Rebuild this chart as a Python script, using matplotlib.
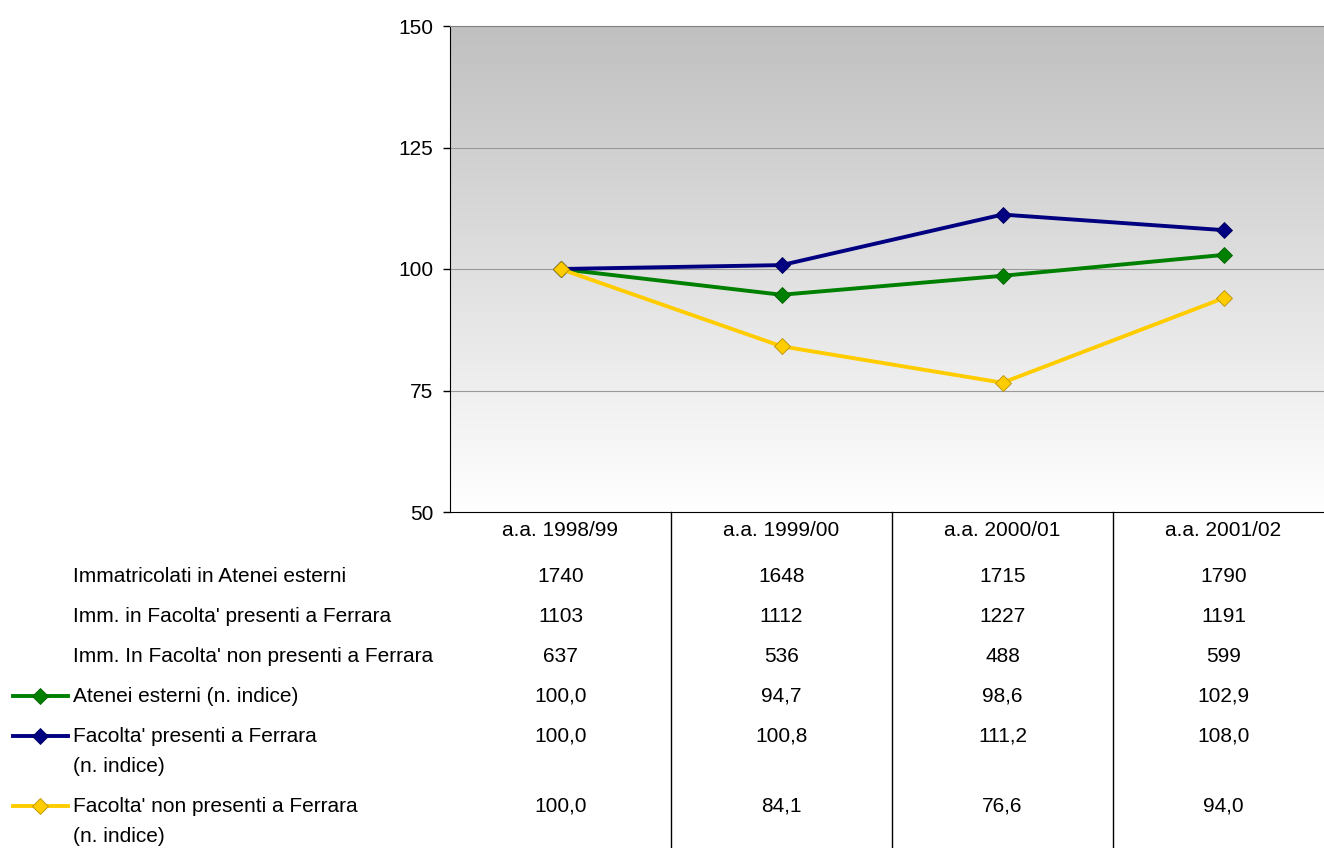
import numpy as np
import matplotlib
matplotlib.use('Agg')
import matplotlib.pyplot as plt
from matplotlib.colors import LinearSegmentedColormap
from matplotlib.lines import Line2D
import matplotlib.transforms as mtransforms

plt.rcParams['font.family'] = ['Liberation Sans', 'DejaVu Sans']

# dati
anni = ['a.a. 1998/99', 'a.a. 1999/00', 'a.a. 2000/01', 'a.a. 2001/02']
imm_esterni = [1740, 1648, 1715, 1790]
imm_presenti = [1103, 1112, 1227, 1191]
imm_non_presenti = [637, 536, 488, 599]
idx_esterni = [100.0, 94.7, 98.6, 102.9]
idx_presenti = [100.0, 100.8, 111.2, 108.0]
idx_non_presenti = [100.0, 84.1, 76.6, 94.0]

righe_tab = ['Immatricolati in Atenei esterni',
             "Imm. in Facolta' presenti a Ferrara",
             "Imm. In Facolta' non presenti a Ferrara"]
nomi_serie = ['Atenei esterni (n. indice)',
              "Facolta' presenti a Ferrara\n(n. indice)",
              "Facolta' non presenti a Ferrara\n(n. indice)"]
colori = ['#008000', '#000080', '#FFCC00']
bordi = ['#006000', '#000060', '#B89000']

W, H = 1324, 848
fig = plt.figure(figsize=(W / 100, H / 100), dpi=100)
left, top, bottom = 450, 26, 512
ax = fig.add_axes([left / W, 1 - bottom / H, (W - left) / W, (bottom - top) / H])

passo = 221.0
x = np.arange(len(anni))
xmin = -0.5
xmax = xmin + (W - left) / passo
ax.set_xlim(xmin, xmax)
ax.set_ylim(50, 150)

# sfondo sfumato
grad = np.linspace(0, 1, 256).reshape(-1, 1)
ax.imshow(grad, extent=[xmin, xmax, 50, 150], origin='lower', aspect='auto',
          cmap=LinearSegmentedColormap.from_list('sf', ['#FFFFFF', '#C0C0C0']), zorder=0)

for v in [75, 100, 125]:
    ax.axhline(v, color='#999999', lw=0.8, zorder=1)

serie = [idx_esterni, idx_presenti, idx_non_presenti]
for vals, col, bc in zip(serie, colori, bordi):
    ax.plot(x, vals, color=col, lw=2.8, marker='D', ms=8, mfc=col, mec=bc, mew=0.6, zorder=3)

ax.set_yticks([50, 75, 100, 125, 150])
ax.tick_params(axis='y', labelsize=15, length=5, width=1, pad=7, direction='out')
ax.set_xticks([])
ax.spines['left'].set_color('#000000')
ax.spines['bottom'].set_color('#000000')
ax.spines['top'].set_color('#808080')
ax.spines['right'].set_visible(False)

# tabella sotto il grafico
tr = mtransforms.blended_transform_factory(ax.transData, fig.transFigure)
def fy(py):
    return 1 - py / H

for xi in x[:-1] + 0.5:
    fig.add_artist(Line2D([xi, xi], [fy(bottom), 0], transform=tr, color='black', lw=1))

fs = 15
for xi, lab in zip(x, anni):
    fig.text(xi, fy(531), lab, transform=tr, ha='center', va='center', fontsize=fs)

righe_y = [577, 616, 656]
for py, nome, vals in zip(righe_y, righe_tab, [imm_esterni, imm_presenti, imm_non_presenti]):
    fig.text(73 / W, fy(py), nome, ha='left', va='center', fontsize=fs)
    for xi, v in zip(x, vals):
        fig.text(xi, fy(py), str(v), transform=tr, ha='center', va='center', fontsize=fs)

serie_y = [696, 736, 806]
for py, nome, vals, col, bc in zip(serie_y, nomi_serie, serie, colori, bordi):
    for i, riga in enumerate(nome.split('\n')):
        fig.text(73 / W, fy(py + 30 * i), riga, ha='left', va='center', fontsize=fs)
    fig.add_artist(Line2D([13 / W, 68 / W], [fy(py), fy(py)], transform=fig.transFigure,
                          color=col, lw=2.8))
    fig.add_artist(Line2D([40 / W], [fy(py)], transform=fig.transFigure, color=col,
                          marker='D', ms=8, mfc=col, mec=bc, mew=0.6))
    for xi, v in zip(x, vals):
        fig.text(xi, fy(py), f'{v:.1f}'.replace('.', ','), transform=tr,
                 ha='center', va='center', fontsize=fs)

fig.savefig('out.png', dpi=100)
